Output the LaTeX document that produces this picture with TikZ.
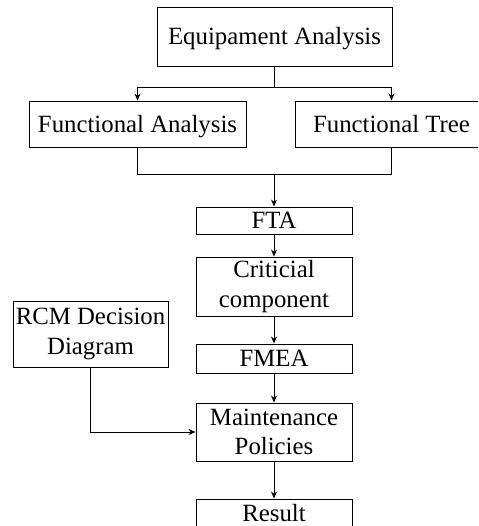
\documentclass[tikz,border=0pt]{standalone}
\usepackage{fontspec}
\setmainfont{Liberation Serif}
\usetikzlibrary{arrows.meta}
\begin{document}
\begin{tikzpicture}[x=1pt,y=-1pt,
  box/.style={draw,line width=0.9pt,inner sep=0pt,align=center,
    font=\fontsize{24.8}{29.5}\selectfont},
  one/.style={box,text height=16.4pt,text depth=0pt},
  link/.style={line width=0.9pt},
  arr/.style={link,-{Stealth[length=7pt,width=6pt]}}]
\path[use as bounding box] (0,0) rectangle (478,526);
\clip (0,0) rectangle (478,526);
\node[one,minimum width=235pt,minimum height=59pt] (eq) at (274.5,36.5) {Equipament Analysis};
\node[one,minimum width=217pt,minimum height=46pt] (fa) at (137.5,124) {Functional Analysis};
\node[one,minimum width=193pt,minimum height=46pt] (ft) at (391.5,124) {Functional Tree};
\node[one,minimum width=156pt,minimum height=27pt] (fta) at (274,220.5) {FTA};
\node[box,minimum width=156pt,minimum height=59pt] (cc) at (274,286.5) {Criticial\\component};
\node[box,minimum width=155pt,minimum height=66pt] (rcm) at (90.5,334) {RCM Decision\\Diagram};
\node[one,minimum width=156pt,minimum height=29pt] (fmea) at (274,358.5) {FMEA};
\node[box,minimum width=156pt,minimum height=58pt] (mp) at (274,432) {Maintenance\\Policies};
\node[one,minimum width=156pt,minimum height=29pt] (res) at (274,513.5) {Result};
\coordinate (j1) at (274.5,87);
\coordinate (j2) at (274,174);
\draw[link] (eq.south) -- (j1);
\draw[arr] (j1) -| (fa.north);
\draw[arr] (j1) -| (ft.north);
\draw[link] (fa.south) |- (j2);
\draw[link] (ft.south) |- (j2);
\draw[arr] (j2) -- (fta.north);
\draw[arr] (fta) -- (cc);
\draw[arr] (cc) -- (fmea);
\draw[arr] (fmea) -- (mp);
\draw[arr] (mp) -- (res);
\draw[arr] (rcm.south) |- (mp.west);
\end{tikzpicture}
\end{document}
